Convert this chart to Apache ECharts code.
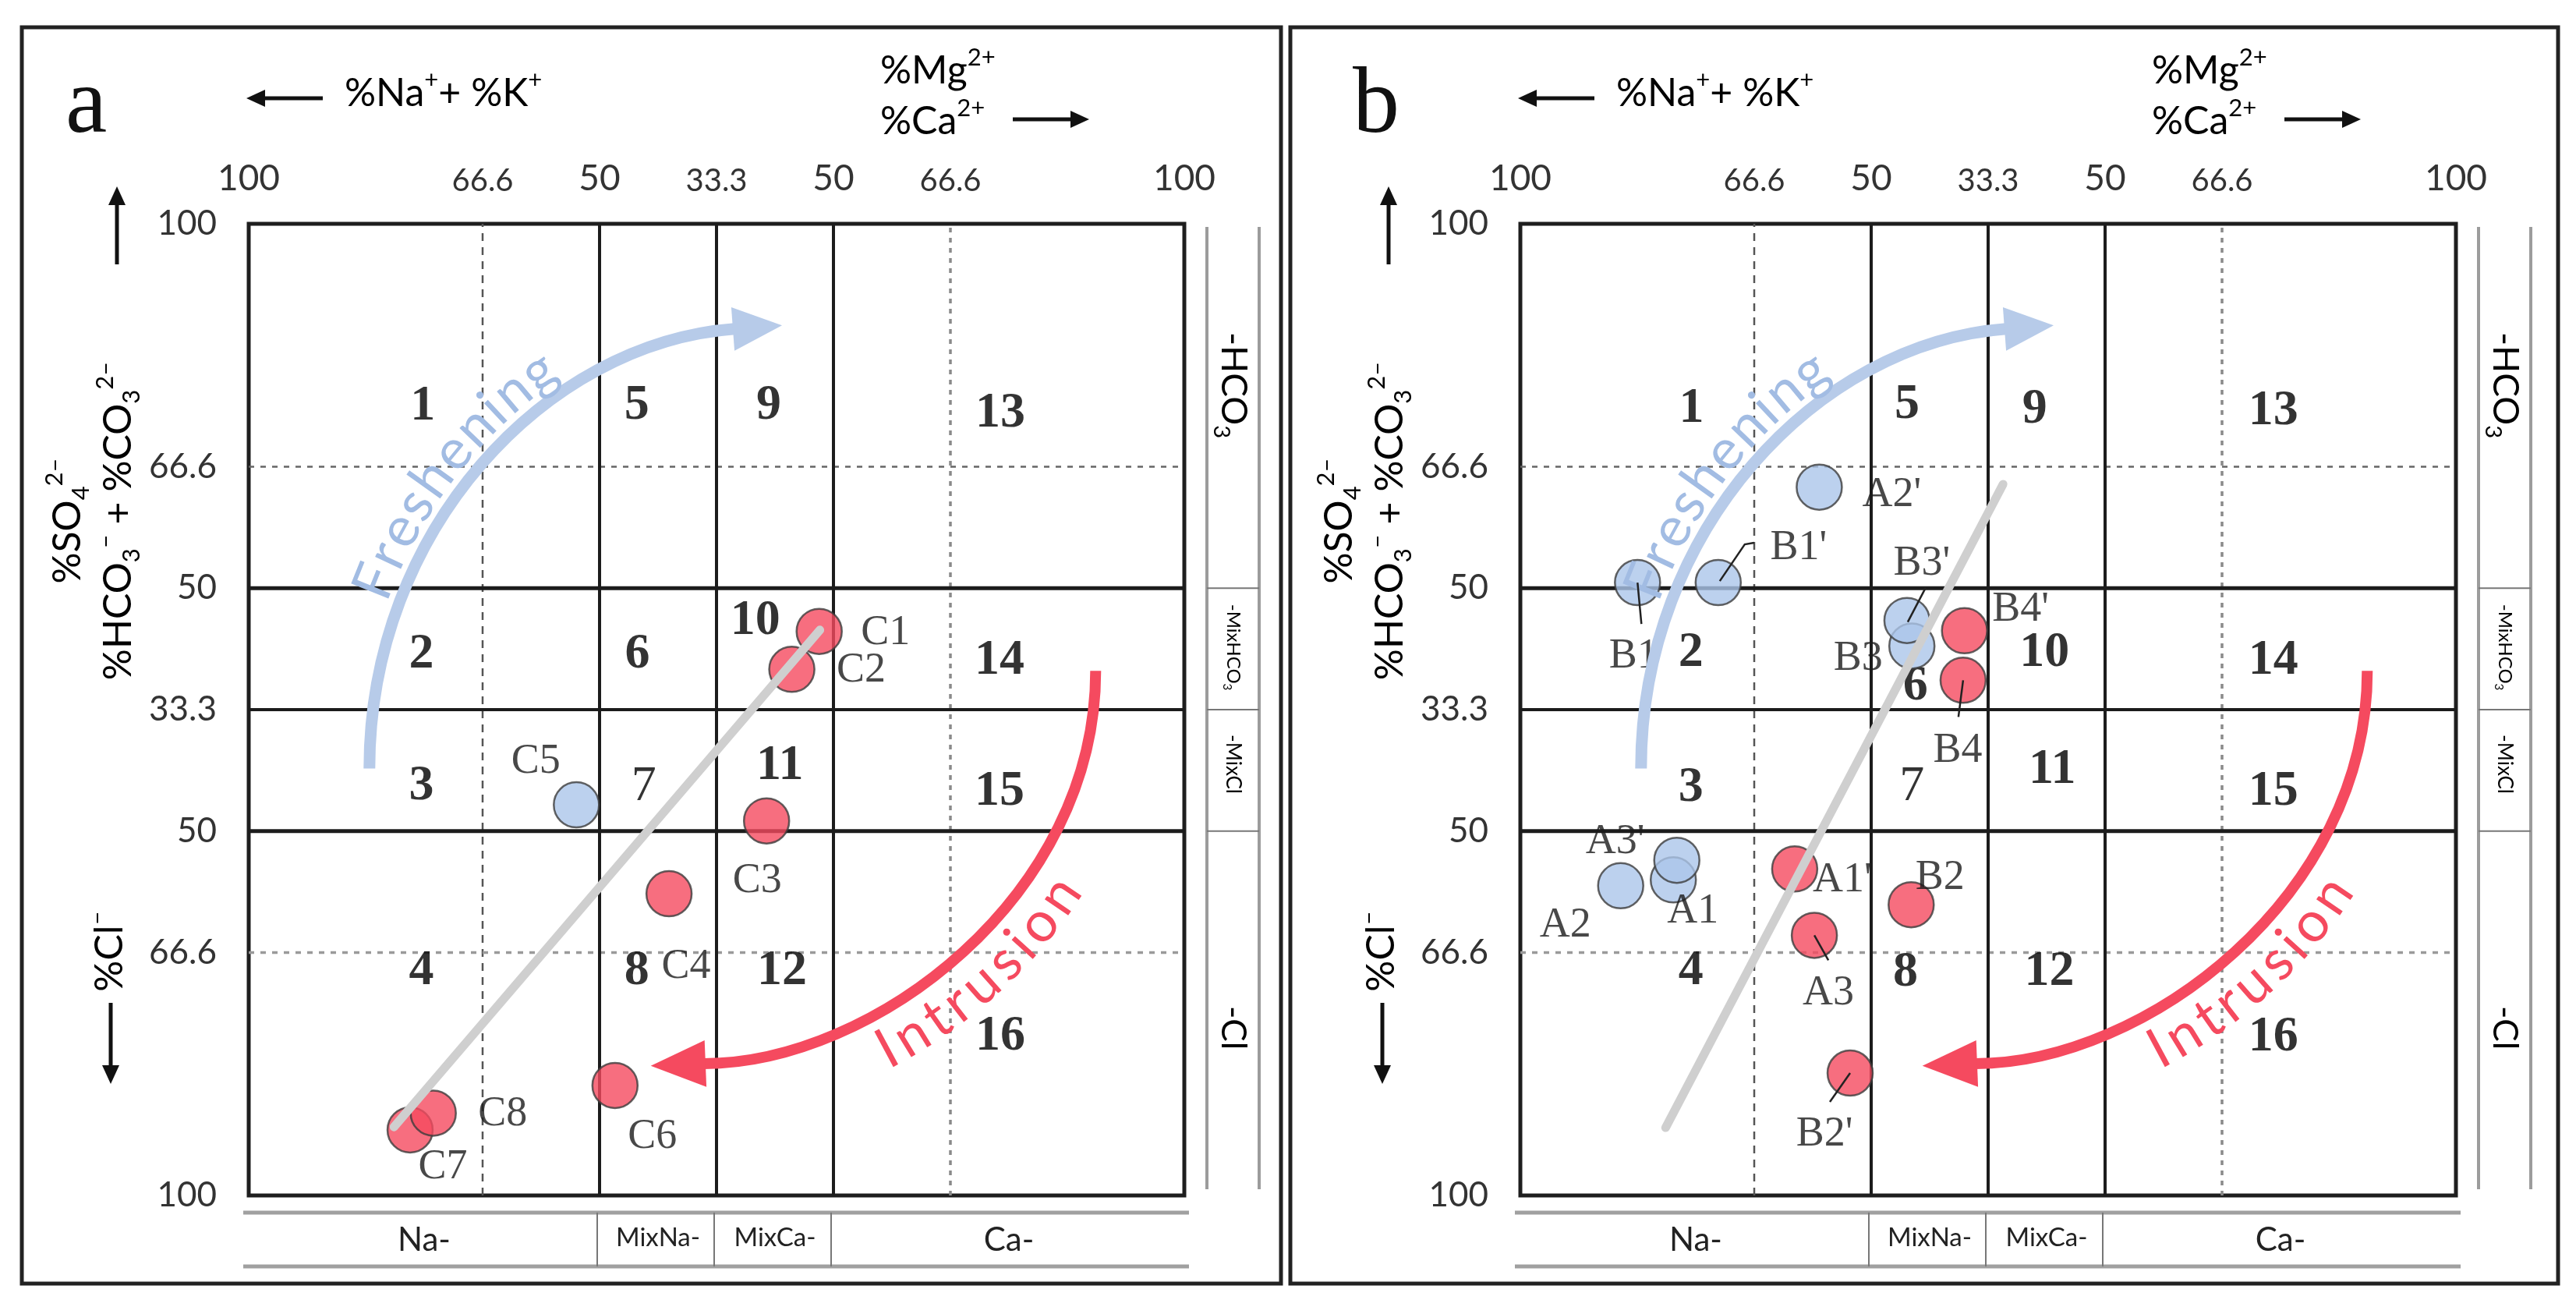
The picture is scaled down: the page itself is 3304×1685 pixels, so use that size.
<!DOCTYPE html>
<html><head><meta charset="utf-8">
<script src="https://cdn.jsdelivr.net/npm/echarts@6/dist/echarts.min.js"></script>
<style>html,body{margin:0;padding:0;background:#fff}#c{width:3304px;height:1685px}</style>
</head><body><div id="c"></div>
<script>
// ================= DATA =================
// axis tick labels (positions 0, 1/8 ... 8/8 of the diagram width/height)
const xTickLabels = ['100', '', '66.6', '50', '33.3', '50', '66.6', '', '100'];
const yTickLabels = ['100', '', '66.6', '50', '33.3', '50', '66.6', '', '100'];
const cationTypes = ['Na-', 'MixNa-', 'MixCa-', 'Ca-'];
const anionTypes = ['-HCO3', '-MixHCO3', '-MixCl', '-Cl'];

// facies field numbers
const zoneNames = ['1','2','3','4','5','6','7','8','9','10','11','12','13','14','15','16'];
const zoneXa = [24.8, 24.6, 24.6, 24.6, 55.3, 55.4, 56.3, 55.3, 74.1, 72.2, 75.7, 76.0, 107.1, 107.0, 107.0, 107.1];
const zoneYa = [108.2, 74.2, 56.1, 30.8, 108.4, 74.2, 56.1, 30.8, 108.4, 78.8, 58.9, 30.8, 107.3, 73.4, 55.4, 21.8];
const zoneXb = [24.4, 24.3, 24.3, 24.3, 55.1, 56.3, 55.8, 54.9, 73.3, 74.7, 75.8, 75.4, 107.3, 107.3, 107.3, 107.3];
const zoneYb = [107.9, 74.4, 55.9, 30.8, 108.5, 69.8, 56.1, 30.6, 107.8, 74.4, 58.4, 30.7, 107.6, 73.4, 55.4, 21.7];

// panel a samples (diagram coordinates)
const samplesA = ['C1', 'C2', 'C3', 'C4', 'C5', 'C6', 'C7', 'C8'];
const xA = [81.3, 77.4, 73.8, 59.9, 46.7, 52.2, 23.0, 26.3];
const yA = [77.4, 72.2, 51.4, 41.4, 53.6, 15.1, 9.0, 11.3];
const groupA = ['i', 'i', 'i', 'i', 'f', 'i', 'i', 'i']; // i = intrusion (red), f = freshening (blue)

// panel b samples
const samplesB = ['B1', "B1'", "A2'", 'B3', "B3'", "B4'", 'B4', 'A1', "A3'", 'A2', "A1'", 'A3', 'B2', "B2'"];
const xB = [16.7, 28.2, 42.6, 55.8, 55.1, 63.3, 63.1, 21.8, 22.3, 14.3, 39.1, 41.9, 55.7, 47.0];
const yB = [84.1, 84.1, 97.2, 75.4, 78.9, 77.5, 70.7, 43.3, 46.0, 42.5, 44.8, 35.7, 39.9, 16.8];
const groupB = ['f', 'f', 'f', 'f', 'f', 'i', 'i', 'f', 'f', 'f', 'i', 'i', 'i', 'i'];

// grey trend lines
const trendA = [[20.7, 9.4], [81.4, 77.6]];
const trendB = [[20.7, 9.3], [68.8, 97.6]];

// ================= LAYOUT / STYLE =================
const W = 3304, H = 1685;
const GRID_LEFT = [319, 1950], GRID_TOP = 287, GRID_W = 1200, GRID_H = 1246;
const XMAX = 400 / 3, YMAX = 400 / 3, STEP = 100 / 6;
const DX = [0, 1631];
const SANS = 'Lato, "Open Sans", sans-serif';
const SERIF = '"Liberation Serif", "DejaVu Serif", serif';
const RED = '#f54a5f', BLUE = '#abc6ea', INK = '#1c1c1c';

const solidX = [50, 200 / 3, 250 / 3];
const solidY = [50, 200 / 3, 250 / 3];
const dashedX = [100 / 3, 100];
const dottedY = [100 / 3, 100];

const labelOffA = [[85, 2], [89, 2], [-12, 77], [22, 94], [-52, -55], [48, 66], [42, 48], [89, 1]];
const labelOffB = [[-5, 95], [103, -44], [93, 10], [-69, 16], [19, -73], [72, -27], [-7, 91],
  [25, 40], [-79, -23], [-71, 51], [61, 14], [18, 74], [37, -34], [-33, 79]];
const leadersB = { 'B1': [[0, 0], [5, 53]], "B1'": [[2, -2], [34, -49], [46, -51]], "B3'": [[1, 2], [24, -42]],
  'B4': [[0, 0], [-6, 47]], 'A3': [[0, 0], [18, 32]], "B2'": [[0, 0], [-26, 37]] };

const freshCtrl = [[17.2, 58.6], [17.2, 91.3], [42.3, 117.0], [69.0, 118.9]];
const freshTip = [76.0, 119.4];
const intruCtrl = [[120.7, 72.0], [120.7, 41.0], [89.0, 18.1], [65.1, 18.1]];
const intruTip = [57.3, 17.8];

const chart = echarts.init(document.getElementById('c'), null, { renderer: 'canvas', width: W, height: H });

function idx(v) { return Math.round(v / STEP); }
function xFmt(v) {
  const s = xTickLabels[idx(v)];
  if (!s) return '';
  return (s === '66.6' || s === '33.3') ? '{s|' + s + '}' : '{b|' + s + '}';
}
function yFmt(v) { return yTickLabels[idx(v)] || ''; }

function lineSeries(p, data, style, z) {
  return { type: 'line', xAxisIndex: p, yAxisIndex: p, data: data, symbol: 'none', silent: true,
    lineStyle: style, z: z || 2, animation: false, emphasis: { disabled: true } };
}

const series = [];
for (let p = 0; p < 2; p++) {
  solidX.forEach(u => series.push(lineSeries(p, [[u, 0], [u, YMAX]], { color: INK, width: 4, type: 'solid' })));
  solidY.forEach(v => series.push(lineSeries(p, [[0, v], [XMAX, v]], { color: INK, width: Math.abs(v - 200 / 3) < 1 ? 4 : 5, type: 'solid' })));
  dashedX.forEach((u, k) => series.push(lineSeries(p, [[u, 0], [u, YMAX]],
    k === 0 ? { color: '#555', width: 2.5, type: [10, 8] } : { color: '#8a8a8a', width: 3.5, type: [6, 7] }, 1)));
  dottedY.forEach((v, k) => series.push(lineSeries(p, [[0, v], [XMAX, v]],
    k === 0 ? { color: '#9a9a9a', width: 3.5, type: [7, 8] } : { color: '#666', width: 2.5, type: [7, 8] }, 1)));
}

function zoneSeries(p, xs, ys) {
  return { type: 'scatter', xAxisIndex: p, yAxisIndex: p, symbolSize: 1, silent: true, z: 3,
    itemStyle: { color: 'rgba(0,0,0,0)' },
    data: zoneNames.map((n, i) => ({ name: n, value: [xs[i], ys[i]],
      label: n === '7' ? { fontWeight: 'normal' } : {} })),
    label: { show: true, position: 'inside', formatter: '{b}', fontFamily: SERIF, fontWeight: 'bold', fontSize: 64, color: '#000' } };
}
series.push(zoneSeries(0, zoneXa, zoneYa));
series.push(zoneSeries(1, zoneXb, zoneYb));

function pointSeries(p, names, xs, ys, groups, offs) {
  return { type: 'scatter', xAxisIndex: p, yAxisIndex: p, symbolSize: 58, silent: true, z: 5,
    itemStyle: { borderColor: '#3c3c3c', borderWidth: 2.5 },
    data: names.map((n, i) => ({ name: n, value: [xs[i], ys[i]],
      itemStyle: { color: groups[i] === 'f' ? BLUE : RED }, label: { offset: offs[i] } })),
    label: { show: true, position: 'inside', formatter: '{b}', fontFamily: SERIF, fontSize: 54, color: '#1a1a1a' } };
}
series.push(pointSeries(0, samplesA, xA, yA, groupA, labelOffA));
series.push(pointSeries(1, samplesB, xB, yB, groupB, labelOffB));

series.push(lineSeries(0, trendA, { color: '#cfcfcf', width: 11, cap: 'round' }, 6));
series.push(lineSeries(1, trendB, { color: '#cfcfcf', width: 11, cap: 'round' }, 6));

const option = {
  animation: false,
  backgroundColor: '#ffffff',
  grid: GRID_LEFT.map(l => ({ left: l, top: GRID_TOP, width: GRID_W, height: GRID_H, show: true,
    borderColor: '#1e1e1e', borderWidth: 5, backgroundColor: 'rgba(0,0,0,0)', containLabel: false, outerBoundsMode: 'none' })),
  xAxis: [0, 1].map(p => ({ gridIndex: p, type: 'value', position: 'top', min: 0, max: XMAX, interval: STEP,
    axisLine: { show: false }, axisTick: { show: false }, splitLine: { show: false },
    axisLabel: { show: true, margin: 35, showMinLabel: true, showMaxLabel: true, formatter: xFmt,
      rich: { b: { fontSize: 46, fontFamily: SANS, color: '#333' }, s: { fontSize: 40, fontFamily: SANS, color: '#333' } } } })),
  yAxis: [0, 1].map(p => ({ gridIndex: p, type: 'value', min: 0, max: YMAX, interval: STEP,
    axisLine: { show: false }, axisTick: { show: false }, splitLine: { show: false },
    axisLabel: { show: true, margin: 41, showMinLabel: true, showMaxLabel: true, formatter: yFmt,
      fontSize: 44, fontFamily: SANS, color: '#333' } })),
  series: series
};
chart.setOption(option);

// ================= ANNOTATIONS =================
function px(p, u, v) { return chart.convertToPixel({ gridIndex: p }, [u, v]); }
function bez(P, t) {
  const a = (1 - t) * (1 - t) * (1 - t), b = 3 * t * (1 - t) * (1 - t), c = 3 * t * t * (1 - t), d = t * t * t;
  return [a * P[0][0] + b * P[1][0] + c * P[2][0] + d * P[3][0], a * P[0][1] + b * P[1][1] + c * P[2][1] + d * P[3][1]];
}
const mctx = document.createElement('canvas').getContext('2d');

function rich(fs, color) {
  const sf = Math.round(fs * 0.62);
  return {
    m: { fontSize: fs, fontFamily: SANS, color: color, lineHeight: Math.round(fs * 1.3) },
    sup: { fontSize: sf, fontFamily: SANS, color: color, verticalAlign: 'top' },
    sub: { fontSize: sf, fontFamily: SANS, color: color, verticalAlign: 'bottom' }
  };
}
function rtext(x, y, text, fs, rot, align, color) {
  return { type: 'text', x: x, y: y, rotation: rot || 0, silent: true, z: 50,
    style: { text: text, rich: rich(fs, color || '#1e1e1e'), align: align || 'center', verticalAlign: 'middle' } };
}
function ptext(x, y, text, font, color, align, rot) {
  return { type: 'text', x: x, y: y, rotation: rot || 0, silent: true, z: 50,
    style: { text: text, font: font, fill: color || '#1e1e1e', align: align || 'center', verticalAlign: 'middle' } };
}
function arrow(x1, y1, x2, y2, lw, hl, hw, color) {
  const dx = x2 - x1, dy = y2 - y1, L = Math.hypot(dx, dy), ux = dx / L, uy = dy / L;
  const bx = x2 - ux * hl, by = y2 - uy * hl;
  return [
    { type: 'line', silent: true, z: 50, shape: { x1: x1, y1: y1, x2: bx + ux * 2, y2: by + uy * 2 }, style: { stroke: color, lineWidth: lw } },
    { type: 'polygon', silent: true, z: 50, shape: { points: [[x2, y2], [bx - uy * hw, by + ux * hw], [bx + uy * hw, by - ux * hw]] }, style: { fill: color } }
  ];
}
function curveArrow(p, ctrl, tip, color, lw, hw) {
  const P = ctrl.map(c => px(p, c[0], c[1]));
  const T = px(p, tip[0], tip[1]);
  const dx = T[0] - P[3][0], dy = T[1] - P[3][1], L = Math.hypot(dx, dy), ux = dx / L, uy = dy / L;
  return [
    { type: 'bezierCurve', silent: true, z: 40,
      shape: { x1: P[0][0], y1: P[0][1], cpx1: P[1][0], cpy1: P[1][1], cpx2: P[2][0], cpy2: P[2][1], x2: P[3][0] + ux * 2, y2: P[3][1] + uy * 2 },
      style: { stroke: color, lineWidth: lw, fill: null } },
    { type: 'polygon', silent: true, z: 40,
      shape: { points: [[T[0], T[1]], [P[3][0] - uy * hw, P[3][1] + ux * hw], [P[3][0] + uy * hw, P[3][1] - ux * hw]] },
      style: { fill: color } }
  ];
}
function curveText(p, ctrl, reverse, offset, startT, text, font, color, spacing) {
  const P = ctrl.map(c => px(p, c[0], c[1]));
  const N = 800; let pts = [];
  for (let i = 0; i <= N; i++) pts.push(bez(P, i / N));
  if (reverse) pts.reverse();
  const off = pts.map((pt, i) => {
    const a = pts[Math.max(0, i - 1)], b = pts[Math.min(N, i + 1)];
    let tx = b[0] - a[0], ty = b[1] - a[1]; const L = Math.hypot(tx, ty); tx /= L; ty /= L;
    return [pt[0] + offset * ty, pt[1] - offset * tx, tx, ty];
  });
  const cum = [0];
  for (let i = 1; i <= N; i++) cum.push(cum[i - 1] + Math.hypot(off[i][0] - off[i - 1][0], off[i][1] - off[i - 1][1]));
  const i0 = Math.round((reverse ? 1 - startT : startT) * N);
  let s = cum[i0];
  mctx.font = font;
  const els = [];
  for (const ch of text) {
    const w = mctx.measureText(ch).width;
    const sc = s + w / 2;
    let k = cum.findIndex(c => c >= sc); if (k < 0) k = N;
    const q = off[k];
    els.push({ type: 'text', x: q[0], y: q[1], rotation: Math.atan2(-q[3], q[2]), silent: true, z: 45,
      style: { text: ch, font: font, fill: color, align: 'center', verticalAlign: 'middle' } });
    s += w + (spacing || 0);
  }
  return els;
}

const G = [];
const borders = [[28, 35, 1615, 1611], [1655, 35, 1626, 1611]];
borders.forEach(b => G.push({ type: 'rect', silent: true, z: 30, shape: { x: b[0], y: b[1], width: b[2], height: b[3] },
  style: { fill: null, stroke: '#222', lineWidth: 5 } }));
G.push(ptext(84, 137, 'a', '120px ' + SERIF, '#111', 'left'));
G.push(ptext(1735, 137, 'b', '120px ' + SERIF, '#111', 'left'));

for (let p = 0; p < 2; p++) {
  const o = DX[p];
  // top titles
  G.push(...arrow(414 + o, 126, 316 + o, 126, 5, 24, 11, '#111'));
  G.push(rtext(442 + o, 120, '{m|%Na}{sup|+}{m|+ %K}{sup|+}', 50, 0, 'left'));
  G.push(rtext(1129 + o, 123, '{m|%Mg}{sup|2+}\n{m|%Ca}{sup|2+}', 50, 0, 'left'));
  G.push(...arrow(1299 + o, 153, 1397 + o, 153, 5, 24, 11, '#111'));
  // left titles
  G.push(...arrow(150 + o, 339, 150 + o, 239, 5, 24, 11, '#111'));
  G.push(rtext(119 + o, 668, '{m|%SO}{sub|4}{sup|2–}\n{m|%HCO}{sub|3}{sup|–}{m| + %CO}{sub|3}{sup|2–}', 50, Math.PI / 2));
  G.push(rtext(141 + o, 1220, '{m|%Cl}{sup|–}', 50, Math.PI / 2));
  G.push(...arrow(142 + o, 1286, 142 + o, 1390, 5, 24, 11, '#111'));

  // right band (anion facies)
  const gl = GRID_LEFT[p], gr = gl + GRID_W;
  const rx1 = gr + 29, rx2 = gr + 96, rxc = (rx1 + rx2) / 2;
  const yTop = GRID_TOP + 4, yBot = GRID_TOP + GRID_H - 8;
  [rx1, rx2].forEach(x => G.push({ type: 'line', silent: true, z: 30, shape: { x1: x, y1: yTop, x2: x, y2: yBot }, style: { stroke: '#9c9c9c', lineWidth: 4 } }));
  solidY.forEach(v => { const y = px(p, 0, v)[1]; G.push({ type: 'line', silent: true, z: 30, shape: { x1: rx1, y1: y, x2: rx2, y2: y }, style: { stroke: '#777', lineWidth: 2 } }); });
  const aFs = [46, 24, 26, 44];
  const aTxt = ['{m|-HCO}{sub|3}', '{m|-MixHCO}{sub|3}', '{m|-MixCl}', '{m|-Cl}'];
  const aY = [494, 830, 980, 1318];
  anionTypes.forEach((t, i) => G.push(rtext(rxc, aY[i], aTxt[i], aFs[i], -Math.PI / 2)));

  // bottom band (cation facies)
  const by1 = 1555, by2 = 1624, byc = 1590;
  [by1, by2].forEach(y => G.push({ type: 'line', silent: true, z: 30, shape: { x1: gl - 7, y1: y, x2: gr + 6, y2: y }, style: { stroke: '#a0a0a0', lineWidth: 5 } }));
  const xs = [0, 50, 200 / 3, 250 / 3, XMAX].map(u => px(p, u, 0)[0]);
  [1, 2, 3].forEach(k => G.push({ type: 'line', silent: true, z: 30, shape: { x1: xs[k] - 3, y1: by1, x2: xs[k] - 3, y2: by2 }, style: { stroke: '#777', lineWidth: 2 } }));
  const cFs = [42, 33, 33, 42];
  cationTypes.forEach((t, i) => G.push(ptext((xs[i] + xs[i + 1]) / 2, i === 1 || i === 2 ? 1587 : byc, t, cFs[i] + 'px ' + SANS, '#222')));

  // freshening / intrusion arrows
  G.push(...curveArrow(p, freshCtrl, freshTip, '#b7cbe9', 15, 28));
  G.push(...curveArrow(p, intruCtrl, intruTip, RED, 14, 30));
  G.push(...curveText(p, freshCtrl, false, 38, 0.24, 'Freshening', '72px ' + SANS, '#a2bce3', 4));
  G.push(...curveText(p, intruCtrl, true, -46, 0.7, 'Intrusion', '72px ' + SANS, RED, 6));
}

// leader lines of panel b
samplesB.forEach((n, i) => {
  const L = leadersB[n]; if (!L) return;
  const c = px(1, xB[i], yB[i]);
  G.push({ type: 'polyline', silent: true, z: 55, shape: { points: L.map(d => [c[0] + d[0], c[1] + d[1]]) },
    style: { stroke: '#222', lineWidth: 2.5, fill: null } });
});

chart.setOption({ graphic: { elements: G } });
</script>
</body></html>
